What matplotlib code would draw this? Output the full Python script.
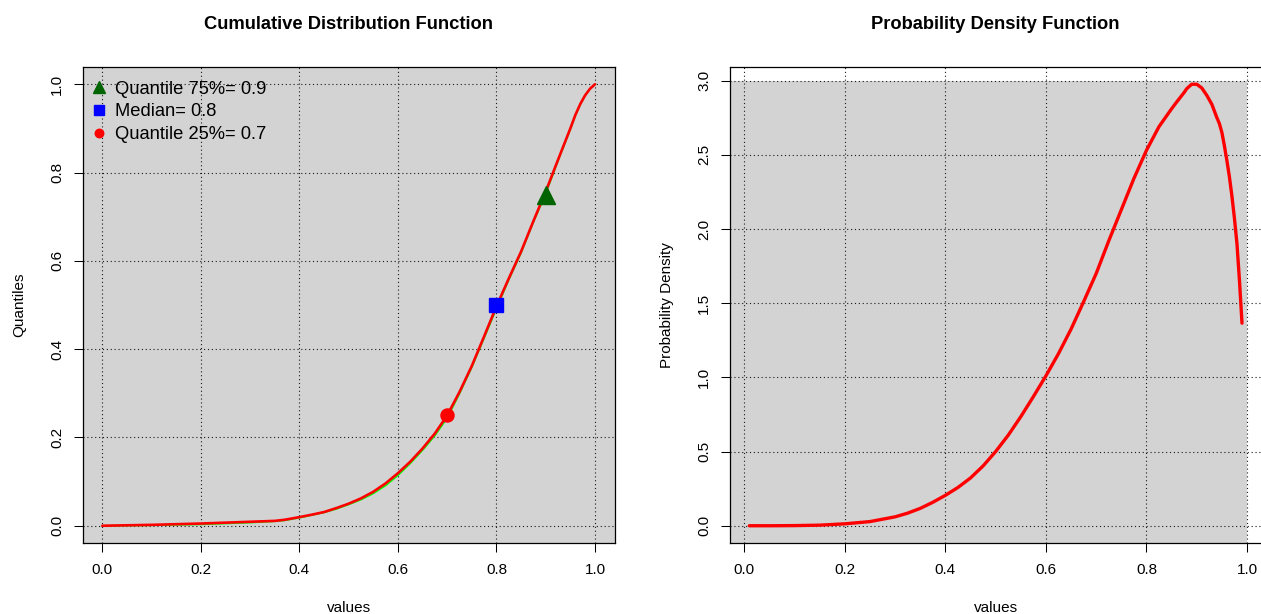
import numpy as np
import matplotlib
matplotlib.use('Agg')
import matplotlib.pyplot as plt
from matplotlib.patches import Rectangle

plt.rcParams['font.family'] = ['Liberation Sans', 'DejaVu Sans']

cdf_x = [0.0, 0.1, 0.2, 0.3, 0.35, 0.37, 0.4, 0.425, 0.45, 0.475, 0.5, 0.525,
         0.55, 0.575, 0.6, 0.625, 0.65, 0.675, 0.7, 0.725, 0.75, 0.775, 0.8,
         0.825, 0.85, 0.875, 0.9, 0.925, 0.95, 0.96, 0.97, 0.98, 0.99, 1.0]
cdf_red = [0.0, 0.002, 0.005, 0.009, 0.011, 0.0135, 0.0195, 0.025, 0.031, 0.040,
           0.050, 0.062, 0.077, 0.096, 0.119, 0.145, 0.175, 0.209, 0.250, 0.303,
           0.362, 0.429, 0.497, 0.560, 0.621, 0.690, 0.757, 0.829, 0.900, 0.930,
           0.955, 0.975, 0.990, 1.0]
cdf_green = [0.0, 0.001, 0.003, 0.007, 0.010, 0.012, 0.018, 0.024, 0.030, 0.038,
             0.048, 0.059, 0.073, 0.091, 0.114, 0.141, 0.171, 0.204, 0.244, 0.299,
             0.359, 0.425, 0.492, 0.557, 0.618, 0.688, 0.752, 0.827, 0.898, 0.929,
             0.954, 0.975, 0.990, 1.0]

# quantile markers
q_x = [0.9, 0.8, 0.7]
q_p = [0.75, 0.5, 0.25]
q_labels = ["Quantile 75%= 0.9", "Median= 0.8", "Quantile 25%= 0.7"]

# density curve
pdf_x = [0.01, 0.05, 0.1, 0.15, 0.2, 0.25, 0.3, 0.325, 0.35, 0.375, 0.4, 0.425,
         0.45, 0.475, 0.5, 0.525, 0.55, 0.575, 0.6, 0.625, 0.65, 0.675, 0.7,
         0.725, 0.75, 0.775, 0.8, 0.825, 0.85, 0.86, 0.875, 0.88, 0.89, 0.9,
         0.91, 0.92, 0.93, 0.94, 0.945, 0.95, 0.955, 0.96, 0.965, 0.97, 0.975,
         0.98, 0.985, 0.99]
pdf_y = [0.0, 0.0, 0.001, 0.004, 0.013, 0.028, 0.06, 0.085, 0.117, 0.158, 0.205,
         0.258, 0.322, 0.403, 0.50, 0.61, 0.735, 0.87, 1.01, 1.16, 1.325, 1.51,
         1.70, 1.92, 2.13, 2.34, 2.53, 2.69, 2.81, 2.855, 2.92, 2.945, 2.975,
         2.975, 2.95, 2.90, 2.84, 2.75, 2.71, 2.65, 2.56, 2.46, 2.35, 2.22,
         2.07, 1.90, 1.65, 1.365]

xticks = [0.0, 0.2, 0.4, 0.6, 0.8, 1.0]
cdf_yticks = [0.0, 0.2, 0.4, 0.6, 0.8, 1.0]
pdf_yticks = [0.0, 0.5, 1.0, 1.5, 2.0, 2.5, 3.0]


def r_range(vals):
    # R style axis range: data range plus 4% on each side
    lo, hi = min(vals), max(vals)
    d = 0.04 * (hi - lo)
    return lo - d, hi + d


def style_axes(ax, xt, yt, xlab, ylab, title):
    ax.set_xticks(xt)
    ax.set_yticks(yt)
    ax.set_xticklabels(["%.1f" % v for v in xt])
    ax.set_yticklabels(["%.1f" % v for v in yt])
    ax.tick_params(direction='out', length=6.8, width=0.75, labelsize=11,
                   colors='black')
    ax.tick_params(axis='x', pad=7.3)
    ax.tick_params(axis='y', pad=6.5)
    plt.setp(ax.get_yticklabels(), rotation=90, va='center')
    for s in ax.spines.values():
        s.set_linewidth(0.9)
    ax.grid(True, color='#1a1a1a', linestyle=(0, (1, 2.5)), linewidth=0.8)
    ax.set_axisbelow(True)
    ax.set_title(title, fontsize=13.2, fontweight='bold', pad=27.4)
    ax.set_xlabel(xlab, fontsize=11)
    ax.set_ylabel(ylab, fontsize=11)
    ax.xaxis.label.set_va('baseline')
    ax.xaxis.set_label_coords(0.5, -0.1445)
    ax.yaxis.label.set_va('baseline')
    ax.yaxis.set_label_coords(-0.111, 0.5)


fig = plt.figure(figsize=(12.61, 6.14), dpi=100)

# left: cumulative distribution
ax1 = fig.add_axes([0.0655, 0.11498, 0.42197, 0.77655])
ax1.set_facecolor('#D3D3D3')
ax1.plot(cdf_x, cdf_green, color='#00FF00', lw=1.2, zorder=2)
ax1.plot(cdf_x, cdf_red, color='#FF0000', lw=1.9, zorder=2.5,
         solid_capstyle='round', solid_joinstyle='round')
h_tri, = ax1.plot(q_x[0], q_p[0], marker='^', ms=12.5, color='#006400',
                  linestyle='none', zorder=3, label=q_labels[0])
h_sq, = ax1.plot(q_x[1], q_p[1], marker='s', ms=10, color='#0000FF',
                 linestyle='none', zorder=3, label=q_labels[1])
h_ci, = ax1.plot(q_x[2], q_p[2], marker='o', ms=9.4, color='#FF0000',
                 linestyle='none', zorder=3, label=q_labels[2])
ax1.set_xlim(*r_range(cdf_x))
ax1.set_ylim(*r_range(cdf_red))
style_axes(ax1, xticks, cdf_yticks, 'values', 'Quantiles',
           'Cumulative Distribution Function')
ax1.legend(handles=[h_tri, h_sq, h_ci], loc='upper left',
           bbox_to_anchor=(0.0177, 0.9707), frameon=False, fontsize=13.2,
           borderpad=0, borderaxespad=0, handlelength=0.8, handletextpad=0.45,
           labelspacing=0.31, markerscale=0.65)

# right: probability density
ax2 = fig.add_axes([0.57859, 0.11498, 0.42197, 0.77655])
x0, x1 = r_range(pdf_x)
y0, y1 = r_range(pdf_y)
ax2.set_xlim(x0, x1)
ax2.set_ylim(y0, y1)
ax2.add_patch(Rectangle((x0, y0), 1.0 - x0, 3.0 - y0, facecolor='#D3D3D3',
                        edgecolor='none', zorder=0.1))
ax2.plot(pdf_x, pdf_y, color='#FF0000', lw=2.4, zorder=2,
         solid_capstyle='round', solid_joinstyle='round')
style_axes(ax2, xticks, pdf_yticks, 'values', 'Probability Density',
           'Probability Density Function')

fig.savefig('out.png', dpi=100)
